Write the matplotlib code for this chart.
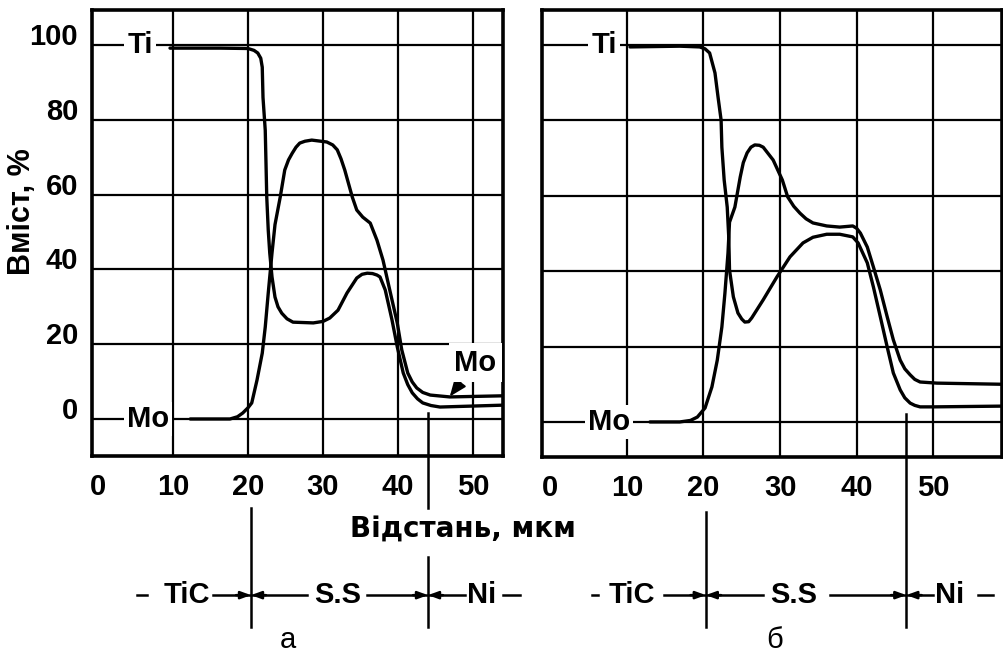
import matplotlib
matplotlib.use('Agg')
import matplotlib.pyplot as plt
from matplotlib import font_manager

# panel а: Ti and Mo profiles
ti_a_x = [9.6, 16.3, 20.0, 20.8, 21.3, 21.7, 21.9, 22.0, 22.3, 22.4, 22.5, 22.7, 22.9, 23.2,
          23.6, 24.0, 24.5, 25.2, 26.0, 28.7, 30.0, 30.9, 32.0, 33.2, 34.5, 35.2, 35.9,
          36.6, 37.2, 37.6, 38.3, 39.2, 39.9, 40.7, 41.3, 41.9, 42.6, 43.3, 44.4, 45.6, 54.0]
ti_a_y = [99.2, 99.2, 99.1, 98.6, 97.9, 96.5, 94.1, 86.0, 77.2, 68.4, 59.4, 50.5, 44.4, 38.0,
          32.6, 30.0, 28.3, 26.8, 25.9, 25.7, 26.1, 27.0, 29.1, 33.7, 37.7, 38.7, 39.0,
          38.9, 38.5, 38.0, 34.5, 26.5, 19.3, 12.3, 9.2, 7.0, 5.4, 4.3, 3.6, 3.2, 3.7]
mo_a_x = [12.3, 17.6, 18.6, 19.3, 20.0, 20.5, 21.2, 21.9, 22.3, 22.7, 22.9, 23.2, 23.6, 24.3,
          24.9, 25.4, 25.9, 26.4, 26.9, 27.6, 28.5, 30.5, 31.3, 31.9, 32.4, 32.9, 33.9,
          34.5, 35.3, 36.3, 37.2, 38.0, 38.9, 39.9, 40.5, 41.3, 41.9, 42.5, 43.3, 44.3,
          46.9, 54.0]
mo_a_y = [0.0, 0.0, 0.6, 1.6, 3.0, 4.3, 10.4, 17.6, 24.6, 33.7, 38.0, 44.4, 52.0, 59.4,
          66.6, 69.3, 71.1, 72.7, 73.8, 74.3, 74.6, 74.1, 73.3, 72.0, 69.6, 66.6, 59.4,
          55.9, 54.0, 52.4, 47.8, 42.5, 34.5, 25.7, 18.5, 12.3, 9.9, 8.3, 7.1, 6.4,
          5.9, 6.2]

# panel б: Ti and Mo profiles
ti_b_x = [10.4, 16.9, 19.5, 20.2, 20.8, 21.5, 21.9, 22.3, 22.4, 22.7, 23.1, 23.3, 23.4, 23.9,
          24.5, 25.0, 25.4, 25.9, 26.3, 27.8, 29.6, 31.3, 33.0, 34.3, 36.1, 37.8, 39.5,
          40.2, 41.4, 42.2, 43.1, 44.0, 44.8, 45.7, 46.3, 47.0, 47.6, 48.3, 50.0, 59.0]
ti_b_y = [99.5, 99.7, 99.5, 99.0, 97.9, 92.6, 86.2, 80.1, 72.9, 64.2, 57.0, 49.0, 40.3, 33.2,
          28.9, 27.3, 26.5, 26.6, 27.6, 32.4, 38.5, 43.8, 47.5, 49.0, 49.8, 49.8, 49.1,
          47.5, 42.2, 35.8, 27.9, 19.9, 13.0, 8.5, 6.4, 5.0, 4.4, 4.0, 4.0, 4.2]
mo_b_x = [13.0, 16.9, 18.3, 19.2, 20.2, 21.1, 21.8, 22.4, 22.8, 23.2, 23.4, 24.1, 24.8, 25.2,
          25.7, 26.2, 26.7, 27.3, 27.8, 29.1, 30.3, 31.0, 31.8, 32.6, 33.4, 34.3, 36.1,
          37.8, 39.5, 40.0, 40.5, 41.4, 42.2, 43.1, 44.0, 44.8, 45.7, 46.3, 47.0, 47.6,
          48.3, 50.5, 59.0]
mo_b_y = [0.0, 0.0, 0.4, 1.3, 3.7, 9.3, 16.4, 25.2, 34.2, 44.8, 53.0, 57.0, 65.0, 68.8,
          71.4, 72.9, 73.5, 73.4, 72.9, 69.5, 64.2, 59.7, 57.2, 55.4, 53.9, 52.8, 52.0,
          51.7, 52.0, 51.4, 50.1, 46.4, 41.1, 35.0, 27.9, 21.8, 16.4, 14.1, 12.5, 11.3,
          10.6, 10.3, 10.0]

x_ticks = [0, 10, 20, 30, 40, 50]
y_ticks = [0, 20, 40, 60, 80, 100]
zones = ['TiC', 'S.S', 'Ni']
bounds_a = [20.4, 44.0]
bounds_b = [20.3, 46.5]

names = {f.name for f in font_manager.fontManager.ttflist}
NARROW = 'Liberation Sans Narrow' if 'Liberation Sans Narrow' in names else 'Liberation Sans'
FS = 22 if NARROW == 'Liberation Sans Narrow' else 21
W, H = 1004, 656

fig = plt.figure(figsize=(W / 100, H / 100), dpi=100)
ax_a = fig.add_axes([92 / W, 1 - 456 / H, 411 / W, 446 / H])
ax_b = fig.add_axes([542 / W, 1 - 457 / H, 460 / W, 447 / H])


def setup(ax, xlim, ylim, ylabels):
    ax.set_xlim(*xlim)
    ax.set_ylim(*ylim)
    for x in x_ticks[1:]:
        ax.axvline(x, color='black', lw=1.6, zorder=1)
    for y in y_ticks:
        ax.axhline(y, color='black', lw=1.6, zorder=1)
    ax.set_xticks(x_ticks, [str(v) for v in x_ticks])
    ax.set_yticks(y_ticks, [str(v) for v in y_ticks] if ylabels else [])
    ax.tick_params(length=0, labelsize=FS, pad=10)
    ax.tick_params(axis='x', pad=12)
    for t in ax.get_xticklabels() + ax.get_yticklabels():
        t.set_fontfamily(NARROW)
        t.set_fontweight('bold')
    for t in ax.get_yticklabels():
        t.set_verticalalignment('baseline')
    for s in ax.spines.values():
        s.set_linewidth(2.6)


def curves(ax, tx, ty, mx, my, ti_pos, mo_pos):
    for xs, ys in ((tx, ty), (mx, my)):
        ax.plot(xs, ys, color='black', lw=2.4, zorder=3, solid_capstyle='round',
                solid_joinstyle='round')
    box = dict(fc='white', ec='none', pad=2)
    ax.text(ti_pos, 100, 'Ti', ha='center', va='center', fontsize=FS, fontweight='bold',
            family=NARROW, bbox=box, zorder=4)
    ax.text(mo_pos, 0, 'Mo', ha='center', va='center', fontsize=FS, fontweight='bold',
            family=NARROW, bbox=box, zorder=4)


def zone_row(ax, bounds, centers, segs, yrow, vlines):
    tr = ax.get_xaxis_transform()
    for name, cx in zip(zones, centers):
        ax.text(cx, yrow, name, transform=tr, ha='center', va='center', fontsize=FS,
                fontweight='bold', family=NARROW, clip_on=False)
    for x0, x1 in segs:
        ax.plot([x0, x1], [yrow, yrow], transform=tr, color='black', lw=1.8, clip_on=False)
    for b in bounds:
        for d in (-2.0, 2.0):
            ax.annotate('', xy=(b, yrow), xytext=(b + d, yrow), xycoords=tr, textcoords=tr,
                        arrowprops=dict(arrowstyle='-|>,head_length=0.6,head_width=0.22',
                                        mutation_scale=10, color='black', lw=1.8,
                                        shrinkA=0, shrinkB=0),
                        annotation_clip=False)
    for x, y0, y1 in vlines:
        ax.plot([x, x], [y0, y1], transform=tr, color='black', lw=1.8, clip_on=False, zorder=2)


setup(ax_a, (-0.8, 54.0), (-9.9, 109.4), True)
setup(ax_b, (-1.1, 59.0), (-9.3, 109.3), False)

curves(ax_a, ti_a_x, ti_a_y, mo_a_x, mo_a_y, 5.6, 6.7)
curves(ax_b, ti_b_x, ti_b_y, mo_b_x, mo_b_y, 7.0, 7.6)

ax_a.annotate('Mo', xy=(46.9, 6.0), xytext=(50.3, 15.0), ha='center', va='center',
              fontsize=FS, fontweight='bold', family=NARROW, zorder=4,
              bbox=dict(fc='white', ec='none', pad=4),
              arrowprops=dict(arrowstyle='-|>,head_length=0.5,head_width=0.2', color='black',
                              lw=1.4, shrinkA=0, shrinkB=0))

zone_row(ax_a, bounds_a, [11.9, 31.9, 51.2],
         [(5.2, 6.5), (15.3, 27.9), (35.9, 48.9), (54.0, 56.3)], -0.312,
         [(bounds_a[0], -0.117, -0.383), (bounds_a[1], 0.096, -0.117),
          (bounds_a[1], -0.226, -0.383)])
zone_row(ax_b, bounds_b, [10.7, 31.8, 52.1],
         [(5.4, 6.2), (14.9, 27.8), (36.5, 50.0), (55.9, 57.8)], -0.309,
         [(bounds_b[0], -0.123, -0.380), (bounds_b[1], 0.096, -0.380)])

fig.text(22 / W, 1 - 212 / H, 'Вміст, %', rotation=90, ha='center', va='center',
         fontsize=FS + 1, fontweight='bold', family=NARROW)
fig.text(463 / W, 1 - 530 / H, 'Відстань, мкм', ha='center', va='center',
         fontsize=20, fontweight='bold', family='DejaVu Sans')
fig.text(288 / W, 2 / H, 'а', ha='center', va='bottom', fontsize=21,
         family='Liberation Sans')
fig.text(775 / W, 2 / H, 'б', ha='center', va='bottom', fontsize=21,
         family='Liberation Sans')

fig.savefig('out.png', dpi=100)
